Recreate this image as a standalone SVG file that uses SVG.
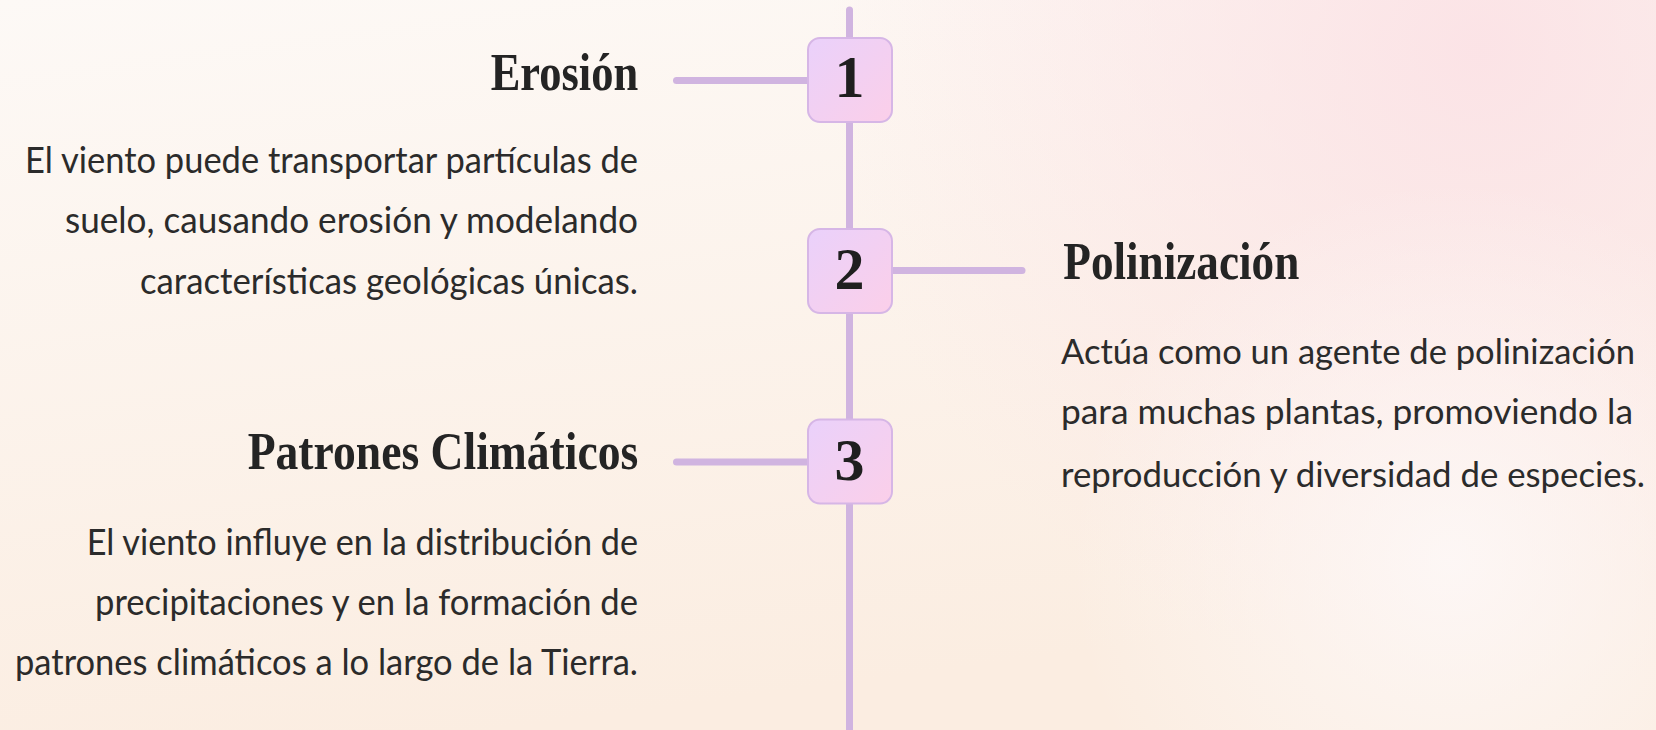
<svg xmlns="http://www.w3.org/2000/svg" width="1656" height="730" viewBox="0 0 1656 730">
  <defs>
    <linearGradient id="bg" x1="0" y1="0" x2="0.3" y2="1">
      <stop offset="0" stop-color="#fdf9f6"/>
      <stop offset="1" stop-color="#fbede1"/>
    </linearGradient>
    <radialGradient id="pink" cx="1480" cy="50" r="650" gradientUnits="userSpaceOnUse">
      <stop offset="0" stop-color="#fbe1e5" stop-opacity="0.9"/>
      <stop offset="1" stop-color="#fbe1e5" stop-opacity="0"/>
    </radialGradient>
    <radialGradient id="light" cx="1450" cy="560" r="380" gradientUnits="userSpaceOnUse">
      <stop offset="0" stop-color="#fdf8f7" stop-opacity="0.9"/>
      <stop offset="1" stop-color="#fdf8f7" stop-opacity="0"/>
    </radialGradient>
    <linearGradient id="boxfill" x1="0" y1="0" x2="1" y2="1">
      <stop offset="0" stop-color="#ead1fb"/>
      <stop offset="1" stop-color="#fbcfe9"/>
    </linearGradient>
    <style>
      .line { stroke: #d0b4e0; stroke-width: 7; stroke-linecap: round; fill: none; }
      .box { fill: url(#boxfill); stroke: #d6b6e6; stroke-width: 2; }
      .num { font-family: "Liberation Serif", "DejaVu Serif", serif; font-weight: bold; font-size: 60px; fill: #1f1f1f; text-anchor: middle; }
      .title { font-family: "Liberation Serif", "DejaVu Serif", serif; font-weight: bold; font-size: 53px; fill: #242424; }
      .desc { font-family: Lato, "Noto Sans", sans-serif; font-size: 37px; fill: #2b2b2b; }
      .right { font-size: 34px; }
    </style>
  </defs>

  <rect width="1656" height="730" fill="url(#bg)"/>
  <rect width="1656" height="730" fill="url(#pink)"/>
  <rect width="1656" height="730" fill="url(#light)"/>

  <g id="connectors">
    <line class="line" x1="849.5" y1="10" x2="849.5" y2="740"/>
    <line class="line" x1="676.5" y1="80.5" x2="808" y2="80.5"/>
    <line class="line" x1="892" y1="270.5" x2="1022" y2="270.5"/>
    <line class="line" x1="676.5" y1="462" x2="808" y2="462"/>
  </g>

  <g id="node-1">
    <rect class="box" x="808" y="38" width="84" height="84" rx="12"/>
    <text class="num" x="849.5" y="97">1</text>
    <text class="title" x="490.7" y="89.5" textLength="147.5" lengthAdjust="spacingAndGlyphs">Erosión</text>
    <text class="desc" x="25" y="172.5" textLength="613" lengthAdjust="spacingAndGlyphs">El viento puede transportar partículas de</text>
    <text class="desc" x="65" y="233" textLength="573" lengthAdjust="spacingAndGlyphs">suelo, causando erosión y modelando</text>
    <text class="desc" x="140" y="294" textLength="498" lengthAdjust="spacingAndGlyphs">características geológicas únicas.</text>
  </g>

  <g id="node-2">
    <rect class="box" x="808" y="229" width="84" height="84" rx="12"/>
    <text class="num" x="849.5" y="289">2</text>
    <text class="title" x="1063.3" y="279.3" textLength="236" lengthAdjust="spacingAndGlyphs">Polinización</text>
    <text class="desc right" x="1061" y="363.5" textLength="574" lengthAdjust="spacingAndGlyphs">Actúa como un agente de polinización</text>
    <text class="desc right" x="1061" y="424" textLength="572" lengthAdjust="spacingAndGlyphs">para muchas plantas, promoviendo la</text>
    <text class="desc right" x="1061" y="486.5" textLength="584" lengthAdjust="spacingAndGlyphs">reproducción y diversidad de especies.</text>
  </g>

  <g id="node-3">
    <rect class="box" x="808" y="419.5" width="84" height="84" rx="12"/>
    <text class="num" x="849.5" y="479.5">3</text>
    <text class="title" x="247.7" y="469" textLength="390.6" lengthAdjust="spacingAndGlyphs">Patrones Climáticos</text>
    <text class="desc" x="86.7" y="555" textLength="551.3" lengthAdjust="spacingAndGlyphs">El viento influye en la distribución de</text>
    <text class="desc" x="95" y="614.5" textLength="543" lengthAdjust="spacingAndGlyphs">precipitaciones y en la formación de</text>
    <text class="desc" x="15" y="674.5" textLength="623" lengthAdjust="spacingAndGlyphs">patrones climáticos a lo largo de la Tierra.</text>
  </g>
</svg>
